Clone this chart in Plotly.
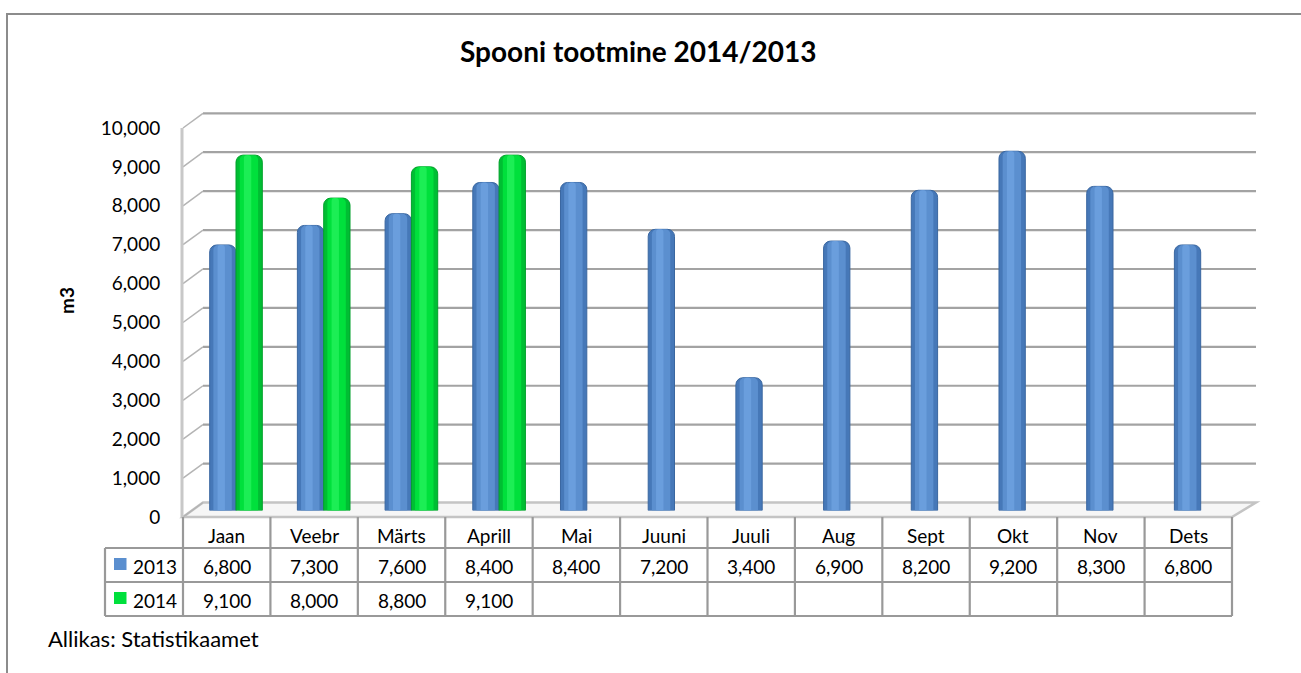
import plotly.graph_objects as go

# ---------------- data ----------------
months = ["Jaan", "Veebr", "Märts", "Aprill", "Mai", "Juuni",
          "Juuli", "Aug", "Sept", "Okt", "Nov", "Dets"]
series_names = ["2013", "2014"]
values_2013 = [6800, 7300, 7600, 8400, 8400, 7200, 3400, 6900, 8200, 9200, 8300, 6800]
values_2014 = [9100, 8000, 8800, 9100, None, None, None, None, None, None, None, None]
y_ticks = [0, 1000, 2000, 3000, 4000, 5000, 6000, 7000, 8000, 9000, 10000]
title_text = "Spooni tootmine 2014/2013"
y_title = "m3"
source_text = "Allikas: Statistikaamet"

# ---------------- layout helpers (pixel -> paper) ----------------
W, H = 1301, 673
FONT = "Lato, 'Open Sans', sans-serif"


def X(px):
    return px / W


def Y(py):
    return 1 - py / H


colors = {"2013": "#5B8FCF", "2014": "#00E03C"}
dark = {"2013": "#4678B8", "2014": "#00BE33"}
light = {"2013": "#6A9EDD", "2014": "#1CEE55"}
edge = {"2013": "#3A67A0", "2014": "#00A02A"}

# front plane / back plane geometry (pixels)
FX0, FX1 = 183, 1232          # front plane left/right (table columns)
BX0, BX1 = 203, 1256          # back wall left/right
F_Y0, F_Y10 = 517, 128        # front plane y of 0 and 10000
B_Y0, B_Y10 = 502.5, 113.3    # back wall y of 0 and 10000
VMAX = 10000


def fy(v):
    return F_Y0 + (F_Y10 - F_Y0) * v / VMAX


def by(v):
    return B_Y0 + (B_Y10 - B_Y0) * v / VMAX


fig = go.Figure()

BAR_W = 0.30
for name, vals, off in ((series_names[0], values_2013, -BAR_W), (series_names[1], values_2014, 0.0)):
    # cylinder body
    fig.add_trace(go.Bar(x=months, y=vals, name=name, width=BAR_W, offset=off,
                         marker=dict(color=dark[name], line=dict(color=edge[name], width=1),
                                     cornerradius=7),
                         hoverinfo="x+y"))
    # cylinder shading (lighter core, slightly right of the dark left edge)
    fig.add_trace(go.Bar(x=months, y=vals, name=name, width=BAR_W * 0.70, offset=off + BAR_W * 0.14,
                         marker=dict(color=colors[name], line=dict(width=0), cornerradius=5),
                         hoverinfo="skip", showlegend=False))
    fig.add_trace(go.Bar(x=months, y=vals, name=name, width=BAR_W * 0.28, offset=off + BAR_W * 0.30,
                         marker=dict(color=light[name], line=dict(width=0), cornerradius=3),
                         hoverinfo="skip", showlegend=False))

# invisible trace that carries the front-plane value axis (tick labels)
fig.add_trace(go.Scatter(x=[months[0]], y=[None], yaxis="y3", xaxis="x",
                         mode="markers", showlegend=False, hoverinfo="skip"))

shapes = []
# outer chart frame
shapes.append(dict(type="rect", xref="paper", yref="paper",
                   x0=X(7), x1=X(1320), y0=Y(700), y1=Y(14),
                   line=dict(color="#8c8c8c", width=2), layer="below"))

# floor
shapes.append(dict(type="path", xref="paper", yref="paper",
                   path=f"M {X(FX0)} {Y(F_Y0)} L {X(FX1)} {Y(F_Y0)} L {X(BX1)} {Y(B_Y0)} L {X(BX0)} {Y(B_Y0)} Z",
                   fillcolor="#f6f6f6", line=dict(color="#c4c4c4", width=2.5), layer="below"))

# back wall gridlines and left wall diagonals
for v in y_ticks:
    if v > 0:
        shapes.append(dict(type="line", xref="paper", yref="paper",
                           x0=X(BX0), x1=X(BX1), y0=Y(by(v)), y1=Y(by(v)),
                           line=dict(color="#a3a3a3", width=2.2), layer="below"))
    shapes.append(dict(type="line", xref="paper", yref="paper",
                       x0=X(FX0), x1=X(BX0), y0=Y(fy(v)), y1=Y(by(v)),
                       line=dict(color="#b4b4b4", width=1.5), layer="below"))
# left wall front edge
shapes.append(dict(type="line", xref="paper", yref="paper",
                   x0=X(FX0 - 1), x1=X(FX0 - 1), y0=Y(F_Y0), y1=Y(F_Y10),
                   line=dict(color="#c8c8c8", width=3), layer="below"))

# ---------------- data table ----------------
col_w = (FX1 - FX0) / len(months)
T_HEAD_TOP, T_R1, T_R2, T_BOT = F_Y0, 548, 582, 616
LEG_X0 = 105
tcol = "#999999"
for ry in (T_R1, T_R2, T_BOT):
    shapes.append(dict(type="line", xref="paper", yref="paper",
                       x0=X(LEG_X0), x1=X(FX1), y0=Y(ry), y1=Y(ry),
                       line=dict(color=tcol, width=2.2)))
shapes.append(dict(type="line", xref="paper", yref="paper",
                   x0=X(LEG_X0), x1=X(LEG_X0), y0=Y(T_R1), y1=Y(T_BOT),
                   line=dict(color=tcol, width=2.2)))
for i in range(len(months) + 1):
    cx = FX0 + i * col_w
    shapes.append(dict(type="line", xref="paper", yref="paper",
                       x0=X(cx), x1=X(cx), y0=Y(T_HEAD_TOP), y1=Y(T_BOT),
                       line=dict(color=tcol, width=2.2)))

annotations = []
tfont = dict(family=FONT, size=19, color="#000000")
for i, m in enumerate(months):
    cx = FX0 + (i + 0.5) * col_w
    annotations.append(dict(text=m, x=X(cx), y=Y((T_HEAD_TOP + T_R1) / 2 + 3), xref="paper", yref="paper",
                            showarrow=False, font=tfont, xanchor="center", yanchor="middle"))
    for vals, (ra, rb) in ((values_2013, (T_R1, T_R2)), (values_2014, (T_R2, T_BOT))):
        v = vals[i]
        if v is not None:
            annotations.append(dict(text=f"{v:,}", x=X(cx), y=Y((ra + rb) / 2 + 1), xref="paper", yref="paper",
                                    showarrow=False, font=tfont, xanchor="center", yanchor="middle"))

# legend keys in the table
for name, (ra, rb) in zip(series_names, ((T_R1, T_R2), (T_R2, T_BOT))):
    mid = (ra + rb) / 2
    shapes.append(dict(type="rect", xref="paper", yref="paper",
                       x0=X(114), x1=X(126.5), y0=Y(mid + 5), y1=Y(mid - 7),
                       fillcolor=colors[name], line=dict(width=0)))
    annotations.append(dict(text=name, x=X(131), y=Y(mid + 1), xref="paper", yref="paper",
                            showarrow=False, font=tfont, xanchor="left", yanchor="middle"))

# title, axis title, source
annotations.append(dict(text=f"<b>{title_text}</b>", x=X(638), y=Y(51), xref="paper", yref="paper",
                        showarrow=False, font=dict(family=FONT, size=28, color="#000000"),
                        xanchor="center", yanchor="middle"))
annotations.append(dict(text=f"<b>{y_title}</b>", x=X(66), y=Y(301), xref="paper", yref="paper",
                        showarrow=False, textangle=-90, font=dict(family=FONT, size=19, color="#000000"),
                        xanchor="center", yanchor="middle"))
annotations.append(dict(text=source_text, x=X(46), y=Y(638), xref="paper", yref="paper",
                        showarrow=False, font=dict(family=FONT, size=22, color="#000000"),
                        xanchor="left", yanchor="middle"))

# bar axis geometry (bars sit at mid depth)
BAR_Y0, BAR_Y10 = 510.5, 120
CAT0_CENTER, CAT_STEP = 236, 87.7
bx0 = CAT0_CENTER - CAT_STEP / 2
bx1 = CAT0_CENTER + (len(months) - 0.5) * CAT_STEP

fig.update_layout(
    template="none",
    width=W, height=H, autosize=False,
    margin=dict(l=0, r=0, t=0, b=0, pad=0, autoexpand=False),
    paper_bgcolor="#ffffff", plot_bgcolor="rgba(0,0,0,0)",
    barmode="overlay",
    showlegend=False,
    font=dict(family=FONT, color="#000000"),
    xaxis=dict(domain=[X(bx0), X(bx1)], range=[-0.5, len(months) - 0.5],
               type="category", categoryorder="array", categoryarray=months,
               visible=False, fixedrange=True, automargin=False),
    yaxis=dict(domain=[Y(BAR_Y0), Y(BAR_Y10)], range=[0, VMAX],
               visible=False, fixedrange=True, automargin=False),
    yaxis3=dict(domain=[Y(F_Y0), Y(F_Y10)], range=[0, VMAX], anchor="free", position=X(FX0),
                tickvals=y_ticks, tickformat=",", showgrid=False, zeroline=False,
                showline=False, ticks="outside", ticklen=19, tickcolor="rgba(0,0,0,0)",
                tickfont=dict(family=FONT, size=19, color="#000000"), fixedrange=True,
                automargin=False),
    shapes=shapes,
    annotations=annotations,
)

fig.write_html("out.html", config={"displayModeBar": False},
               post_script="document.body.style.margin='0px';document.body.style.overflow='hidden';")
